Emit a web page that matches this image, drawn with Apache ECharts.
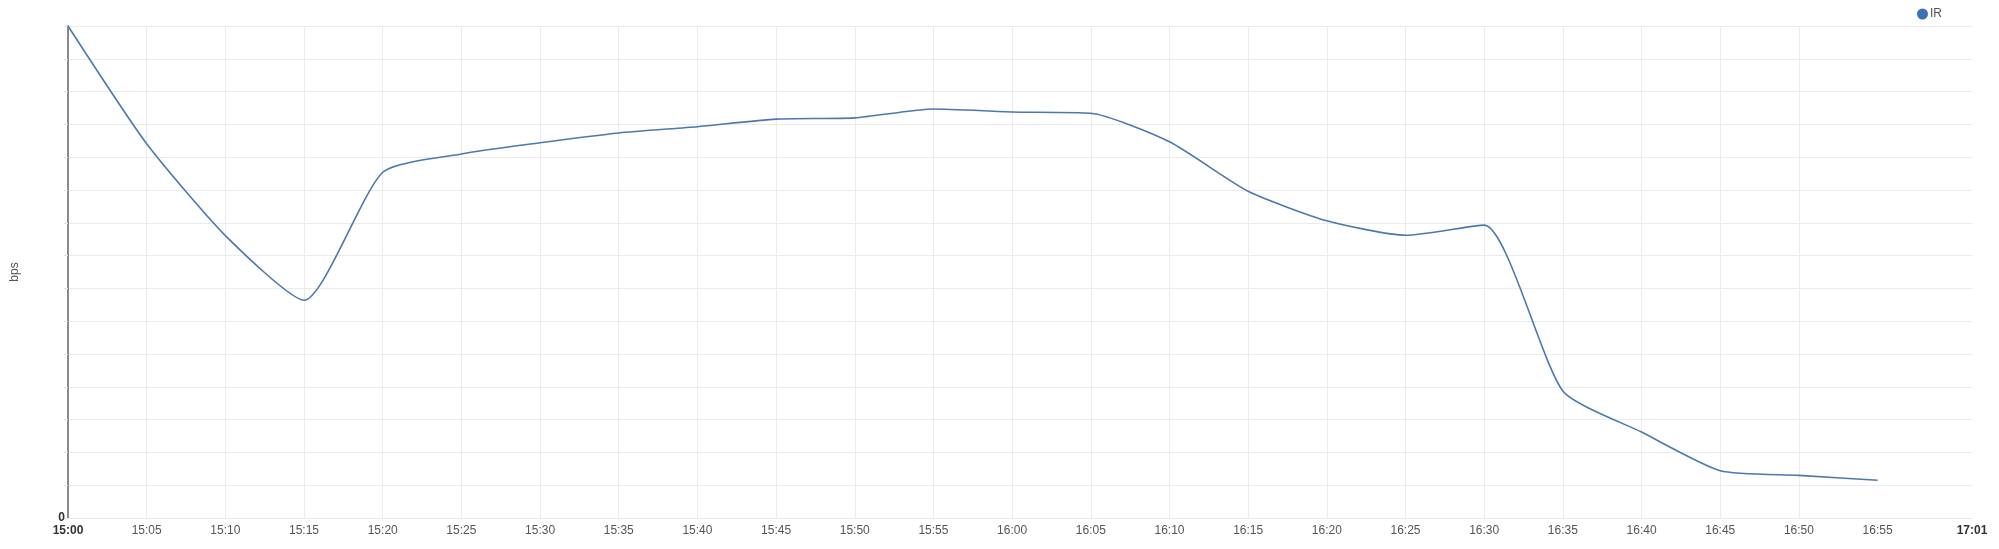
<!DOCTYPE html>
<html>
<head>
<meta charset="utf-8">
<script src="https://cdn.jsdelivr.net/npm/echarts@6/dist/echarts.min.js"></script>
<style>
  html, body { margin: 0; padding: 0; background: #fff; }
  #chart { width: 1999px; height: 549px; }
</style>
</head>
<body>
<div id="chart"></div>
<script>
// Sample times (every 5 minutes) and the IR series, in grid-line units
// (the y axis has 15 divisions, labels hidden except 0).
const times = [
  "15:00", "15:05", "15:10", "15:15", "15:20", "15:25", "15:30", "15:35",
  "15:40", "15:45", "15:50", "15:55", "16:00", "16:05", "16:10", "16:15",
  "16:20", "16:25", "16:30", "16:35", "16:40", "16:45", "16:50", "16:55"
]
const irValues = [
  15, 11.41, 8.61, 6.64, 10.54, 11.1, 11.44, 11.74,
  11.93, 12.16, 12.2, 12.47, 12.38, 12.34, 11.47, 9.96,
  9.06, 8.62, 8.93, 3.87, 2.62, 1.44, 1.3, 1.15
]
// x axis ticks / grid lines, minutes after 15:00
const xTicks = [0, 5, 10, 15, 20, 25, 30, 35, 40, 45, 50, 55, 60, 65, 70,
  75, 80, 85, 90, 95, 100, 105, 110, 115]
// labels also mark the right edge (17:01)
const xMax = 121
const xLabels = xTicks.concat([xMax])
const yMax = 15

const toMinutes = (t) => {
  const [h, m] = t.split(":").map(Number)
  return (h - 15) * 60 + m
}
const toLabel = (v) => {
  const total = 15 * 60 + v
  const h = Math.floor(total / 60)
  const m = total % 60
  return h + ":" + String(m).padStart(2, "0")
}

const chart = echarts.init(document.getElementById("chart"), null, { renderer: "canvas" })

const font = "'Helvetica Neue', Helvetica, Arial, 'Liberation Sans', sans-serif"

chart.setOption({
  animation: false,
  textStyle: { fontFamily: font },
  legend: {
    data: ["IR"],
    top: 3,
    right: 52,
    icon: "circle",
    itemWidth: 11,
    itemHeight: 11,
    itemGap: 4,
    textStyle: { fontSize: 12, color: "#555", padding: [0, 0, 0, -3] }
  },
  grid: { left: 68, right: 27, top: 26, bottom: 31 },
  xAxis: {
    type: "value",
    min: 0,
    max: xMax,
    axisLine: { show: true, lineStyle: { color: "#e6e6e6", width: 1 } },
    axisTick: { show: false, customValues: xTicks },
    axisLabel: {
      customValues: xLabels,
      color: "#555",
      fontSize: 12,
      margin: 7,
      formatter: (v) => (v === 0 || v === xMax) ? "{b|" + toLabel(v) + "}" : toLabel(v),
      rich: { b: { fontWeight: "bold", color: "#333", fontSize: 12 } }
    },
    splitLine: {
      show: true,
      showMaxLine: false,
      lineStyle: { color: "#ebebeb", width: 1 }
    }
  },
  yAxis: {
    type: "value",
    min: 0,
    max: yMax,
    interval: 1,
    name: "bps",
    nameLocation: "middle",
    nameGap: 47,
    nameTextStyle: { color: "#555", fontSize: 12 },
    axisLine: { show: true, lineStyle: { color: "#8a8a8a", width: 2 } },
    axisTick: { show: true, length: 4, lineStyle: { color: "#e0e0e0" } },
    axisLabel: {
      color: "#333",
      fontSize: 12,
      fontWeight: "bold",
      margin: 3,
      formatter: (v) => v === 0 ? "0" : ""
    },
    splitLine: { show: true, lineStyle: { color: "#ebebeb", width: 1 } }
  },
  series: [{
    name: "IR",
    type: "line",
    smooth: 0.2,
    showSymbol: false,
    itemStyle: { color: "#3b70b5" },
    lineStyle: { color: "#4a78b0", width: 1.6 },
    data: times.map((t, i) => [toMinutes(t), irValues[i]])
  }]
})
</script>
</body>
</html>
